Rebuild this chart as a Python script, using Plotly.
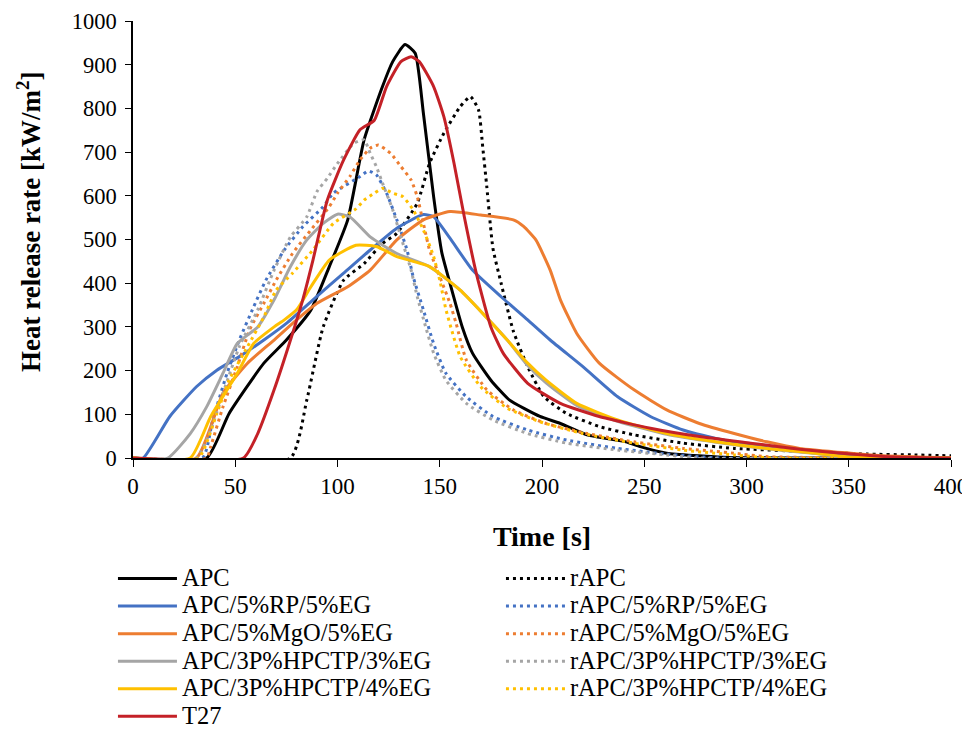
import plotly.graph_objects as go

# ---- data (time in s, HRR in kW/m2) ----
APC_t = [0, 36, 47, 64, 75, 87, 96, 105, 113, 122, 127, 133, 138, 142, 147, 151, 155, 161, 166, 175, 184, 199, 209, 222, 241, 248, 261, 289, 400]
APC_v = [0, 0, 102, 217, 270, 339, 438, 545, 728, 850, 907, 946, 926, 789, 598, 470, 400, 300, 240, 178, 133, 95, 79, 53, 37, 26, 11, 2, 0]

rAPC_t = [0, 77, 85, 93, 103, 113, 122, 129, 139, 145, 152, 160, 165, 169, 171, 173, 176, 180, 186, 193, 201, 212, 228, 245, 269, 294, 334, 359, 382, 400]
rAPC_v = [0, 0, 133, 300, 407, 445, 491, 514, 583, 674, 743, 804, 827, 796, 712, 621, 480, 400, 290, 209, 140, 102, 72, 53, 34, 22, 14, 9, 7, 5]

RP_t = [0, 5, 18, 31, 41, 52, 64, 75, 88, 103, 116, 129, 142, 147, 155, 166, 180, 193, 204, 220, 237, 253, 269, 285, 302, 318, 334, 351, 362, 400]
RP_v = [0, 0, 95, 163, 201, 232, 270, 308, 362, 423, 476, 526, 557, 552, 503, 430, 369, 316, 270, 209, 140, 95, 64, 45, 30, 18, 11, 5, 0, 0]

MgO_t = [0, 31, 44, 56, 69, 80, 90, 105, 116, 129, 142, 155, 170, 186, 191, 197, 204, 209, 217, 228, 245, 261, 277, 294, 310, 326, 351, 367, 400]
MgO_v = [0, 0, 148, 217, 270, 316, 354, 392, 430, 499, 545, 564, 556, 545, 530, 499, 430, 362, 285, 217, 156, 110, 79, 56, 37, 22, 11, 5, 0]

HP3_t = [0, 17, 28, 36, 44, 51, 61, 69, 77, 85, 93, 100, 106, 116, 129, 145, 160, 171, 183, 193, 202, 217, 237, 261, 285, 310, 334, 352, 400]
HP3_v = [0, 0, 56, 117, 194, 262, 300, 362, 438, 499, 537, 558, 552, 506, 468, 438, 384, 331, 270, 212, 172, 120, 84, 54, 36, 21, 10, 0, 0]

HP4_t = [0, 28, 38, 51, 59, 69, 74, 80, 87, 96, 109, 119, 129, 145, 160, 171, 183, 193, 202, 217, 237, 261, 285, 310, 334, 349, 400]
HP4_v = [0, 0, 95, 194, 262, 300, 316, 339, 392, 453, 487, 484, 461, 438, 384, 331, 270, 217, 178, 125, 87, 56, 37, 22, 11, 3, 0]

T27_t = [0, 54, 61, 69, 77, 83, 88, 95, 103, 111, 118, 124, 131, 136, 140, 147, 152, 157, 162, 168, 175, 181, 193, 209, 228, 253, 277, 302, 326, 351, 369, 400]
T27_v = [0, 0, 56, 156, 270, 362, 453, 590, 682, 751, 773, 850, 907, 918, 907, 850, 781, 674, 552, 420, 300, 240, 171, 125, 95, 68, 49, 34, 20, 9, 3, 0]

rRP_t = [0, 34, 39, 46, 52, 59, 65, 74, 83, 93, 98, 111, 115, 119, 124, 129, 134, 137, 142, 147, 153, 163, 176, 193, 212, 237, 261, 287, 400]
rRP_v = [0, 0, 87, 194, 270, 346, 407, 476, 529, 575, 606, 644, 657, 648, 606, 545, 476, 415, 339, 262, 194, 140, 95, 64, 41, 22, 9, 0, 0]

rMgO_t = [0, 36, 38, 44, 51, 57, 64, 70, 78, 87, 96, 100, 106, 111, 116, 120, 126, 131, 136, 139, 142, 145, 150, 155, 158, 163, 173, 186, 202, 222, 245, 269, 294, 310, 400]
rMgO_v = [0, 0, 26, 117, 209, 293, 354, 407, 468, 522, 575, 606, 644, 682, 709, 716, 697, 667, 636, 598, 537, 476, 415, 354, 308, 224, 156, 110, 79, 56, 37, 22, 11, 3, 0]

r3P3_t = [0, 31, 38, 44, 52, 61, 69, 77, 85, 90, 95, 100, 108, 113, 116, 119, 122, 127, 131, 136, 139, 143, 147, 153, 163, 176, 193, 212, 237, 261, 277, 400]
r3P3_v = [0, 0, 64, 148, 255, 339, 430, 506, 552, 610, 640, 674, 720, 728, 697, 667, 629, 568, 506, 430, 369, 302, 240, 178, 125, 87, 56, 34, 18, 7, 0, 0]

r3P4_t = [0, 32, 41, 47, 56, 64, 70, 78, 88, 98, 109, 113, 118, 122, 127, 132, 137, 142, 147, 150, 153, 156, 160, 170, 183, 199, 220, 245, 269, 294, 313, 400]
r3P4_v = [0, 0, 102, 178, 255, 323, 384, 423, 476, 537, 570, 590, 606, 617, 606, 598, 568, 522, 461, 407, 340, 290, 232, 163, 114, 83, 56, 34, 18, 7, 0, 0]

series = [
    ("APC", APC_t, APC_v, "#000000", "solid"),
    ("rAPC", rAPC_t, rAPC_v, "#000000", "dot"),
    ("APC/5%RP/5%EG", RP_t, RP_v, "#4472C4", "solid"),
    ("rAPC/5%RP/5%EG", rRP_t, rRP_v, "#4472C4", "dot"),
    ("APC/5%MgO/5%EG", MgO_t, MgO_v, "#ED7D31", "solid"),
    ("rAPC/5%MgO/5%EG", rMgO_t, rMgO_v, "#ED7D31", "dot"),
    ("APC/3P%HPCTP/3%EG", HP3_t, HP3_v, "#A5A5A5", "solid"),
    ("rAPC/3P%HPCTP/3%EG", r3P3_t, r3P3_v, "#A5A5A5", "dot"),
    ("APC/3P%HPCTP/4%EG", HP4_t, HP4_v, "#FFC000", "solid"),
    ("rAPC/3P%HPCTP/4%EG", r3P4_t, r3P4_v, "#FFC000", "dot"),
    ("T27", T27_t, T27_v, "#C42127", "solid"),
]

FONT = "Liberation Serif"

fig = go.Figure()
for name, t, v, col, dash in series:
    fig.add_trace(go.Scatter(
        x=t, y=v, mode="lines",
        name='<span style="font-size:24.5px">' + name + '</span>',
        line=dict(color=col, width=3, shape="spline", smoothing=0.5,
                  dash=("3px,4px" if dash == "dot" else "solid")),
    ))

# the page body adds an 8px margin, so the figure is made 8px smaller
fig.update_layout(
    width=962, height=722,
    margin=dict(l=125, r=19, t=13, b=272, autoexpand=False),
    paper_bgcolor="white", plot_bgcolor="white",
    font=dict(family=FONT, size=22, color="black"),
    showlegend=True,
    legend=dict(
        orientation="h", x=-0.0245, y=-0.2328, xanchor="left", yanchor="top",
        entrywidth=314, entrywidthmode="pixels",
        font=dict(family=FONT, size=18.9, color="black"),
        itemwidth=59,
        bgcolor="rgba(0,0,0,0)",
    ),
    annotations=[dict(
        text="<b>Heat release rate [kW/m<sup>2</sup>]</b>",
        xref="paper", yref="paper", x=-0.1278, y=0.541,
        xanchor="center", yanchor="middle", textangle=-90, showarrow=False,
        font=dict(family=FONT, size=27, color="black"),
    )],
)
fig.update_xaxes(
    range=[0, 400], tickmode="linear", tick0=0, dtick=50, automargin=False,
    showline=True, linecolor="black", linewidth=1.5,
    ticks="outside", ticklen=7, tickcolor="black",
    showgrid=False, zeroline=False, ticklabelstandoff=0,
    tickfont=dict(family=FONT, size=23),
    title=dict(text="<b>Time [s]</b>", font=dict(family=FONT, size=28), standoff=28),
)
fig.update_yaxes(
    range=[0, 1000], tickmode="linear", tick0=0, dtick=100, automargin=False,
    showline=True, linecolor="black", linewidth=1.5,
    ticks="outside", ticklen=6, tickcolor="black",
    showgrid=False, zeroline=False, ticklabelstandoff=4,
    tickfont=dict(family=FONT, size=22.5),
)

fig.write_html("out.html")
